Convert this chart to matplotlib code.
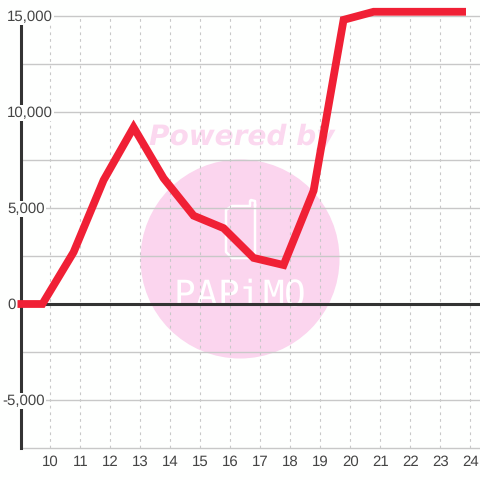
import matplotlib
matplotlib.use("Agg")
import matplotlib.patches as mpatches
import matplotlib.pyplot as plt

hours = [8.9, 9.73, 10.77, 11.77, 12.77, 13.77, 14.77, 15.77, 16.77, 17.77, 18.77, 19.77, 20.77, 21.77, 22.77, 23.85]
values = [0, 0, 2700, 6450, 9200, 6550, 4600, 3950, 2400, 2030, 5900, 14800, 15220, 15220, 15220, 15220]
x_ticks = list(range(10, 25))
y_ticks = [-5000, 0, 5000, 10000, 15000]
y_minor = [-7500, -2500, 2500, 7500, 12500]
logo_letters = ["P", "A", "P", "i", "M", "O"]
logo_x = [184, 206, 228, 250, 273, 295]

GRID = "#c8c8c8"
DARK = "#333333"
RED = "#f02035"
PINK = "#fbd5ee"
BG = "#fefffe"

plt.rcParams["font.family"] = ["Liberation Sans", "DejaVu Sans"]
plt.rcParams["text.hinting"] = "none"
plt.rcParams["text.hinting_factor"] = 1

fig = plt.figure(figsize=(4.8, 4.8), dpi=100, facecolor=BG)
ax = fig.add_axes([20.5 / 480, 32 / 480, 459.5 / 480, 432 / 480])
ax.set_facecolor("none")
ax.set_xlim(9, 24.317)
ax.set_ylim(-7500, 15000)

# grid
for y in y_ticks + y_minor:
    ax.axhline(y, color=GRID, linewidth=1.0, zorder=1, clip_on=False)
for x in x_ticks:
    ax.axvline(x, color=GRID, linewidth=0.8, linestyle=(0, (2.5, 3.5)), zorder=1)

# watermark, drawn in pixels
wm = fig.add_axes([0, 0, 1, 1], zorder=-1)
wm.set_xlim(0, 480)
wm.set_ylim(480, 0)
wm.axis("off")
wm.add_patch(mpatches.Circle((240, 259), 99.5, facecolor=PINK, edgecolor="none"))
wm.plot([255, 255, 251, 250, 250, 232, 226, 226, 232, 255, 255],
        [205, 201, 200, 201, 206, 206, 210, 252, 258, 258, 205],
        color="white", linewidth=1.8, solid_joinstyle="round")
wm.text(241.5, 145, "Powered by", family="DejaVu Sans", fontsize=20.3, fontweight="bold",
        fontstyle="italic", color="#fbd8ef", ha="center", va="baseline")
for letter, lx in zip(logo_letters, logo_x):
    wm.text(lx, 306, letter, family="DejaVu Sans Mono", fontsize=26,
            color="white", ha="center", va="baseline")

ax.axhline(0, color=DARK, linewidth=2.2, zorder=3)
ax.plot(hours, values, color=RED, linewidth=5.6, solid_joinstyle="miter",
        solid_capstyle="butt", zorder=5, clip_on=False)

for side in ["top", "right", "bottom"]:
    ax.spines[side].set_visible(False)
ax.spines["left"].set_color(DARK)
ax.spines["left"].set_linewidth(2.2)
ax.spines["left"].set_bounds(-7500, 15000)
ax.spines["left"].set_zorder(2)

ax.set_xticks(x_ticks)
ax.set_yticks([])
ax.tick_params(length=0, labelsize=10.6, labelcolor="#444444", pad=5)

# y labels sit across the axis line, left aligned with a background box
for v in y_ticks:
    dx = -18 if v < 0 else -13.5
    ax.annotate(f"{v:,}", xy=(0, v), xycoords=("axes fraction", "data"),
                xytext=(dx * 0.72, -0.7), textcoords="offset points",
                ha="left", va="center", fontsize=10.6, color="#444444", zorder=4,
                bbox=dict(facecolor=BG, edgecolor="none", pad=0.8),
                annotation_clip=False)

fig.savefig("out.png", dpi=100, facecolor=fig.get_facecolor())
